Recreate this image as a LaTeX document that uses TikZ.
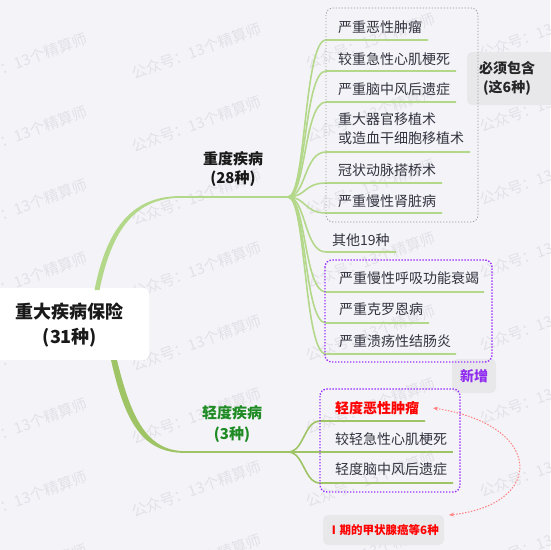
\documentclass[tikz,border=0pt]{standalone}
\usepackage{fontspec}
\setmainfont{Noto Sans CJK SC}
\usetikzlibrary{arrows.meta}
\definecolor{bgc}{HTML}{F4F4F8}
\definecolor{wmc}{HTML}{E1E1E7}
\definecolor{itemc}{HTML}{333340}
\definecolor{hgreen}{HTML}{B3D88A}
\definecolor{lgreen}{HTML}{9FC466}
\definecolor{purp}{HTML}{9B30FF}
\definecolor{purtxt}{HTML}{8F2BF0}
\definecolor{tagfill}{HTML}{E8E8EB}
\definecolor{lgtxt}{HTML}{1F8B24}
\definecolor{arrc}{HTML}{FF8080}
\begin{document}
\begin{tikzpicture}[x=1pt,y=-1pt,
  item/.style={anchor=west, inner sep=0pt, font=\fontsize{14}{19}\selectfont, text=itemc, align=left},
  hbr/.style={draw=hgreen, line width=1.6pt},
  lbr/.style={draw=lgreen, line width=1.6pt},
  dotbox/.style={draw=purp, line width=1.4pt, dash pattern=on 1.4pt off 1.6pt, rounded corners=7pt},
  graybox/.style={draw=black!40, line width=0.8pt, dash pattern=on 1.2pt off 1.8pt, rounded corners=7pt},
  tag/.style={fill=tagfill, rounded corners=5pt, inner sep=0pt},
  wm/.style={anchor=base west, rotate=20, inner sep=0pt, text=wmc, font=\fontsize{15}{15}\selectfont}]
\fill[bgc] (0,0) rectangle (550,550);
\useasboundingbox (0,0) rectangle (550,550);
% watermark
\foreach \i in {0,...,3}{
  \foreach \j in {0,...,7}{
    \node[wm] (wm-\i-\j) at ({-40+174*\i},{90-10*\i+73*\j}) {公众号：13个精算师};
  }
}
% tag boxes
\fill[tagfill, rounded corners=5pt] (467,52) rectangle (560,105);
\node[inner sep=0pt, align=center, font=\bfseries\fontsize{14}{19}\selectfont, text=black!85] (must) at (507,78.5) {必须包含\\(这6种)};
\node[tag, minimum width=44pt, minimum height=34pt, font=\bfseries\fontsize{14}{16}\selectfont, text=purtxt] (new) at (474,376) {新增};
\node[tag, minimum width=121pt, minimum height=30pt, font=\bfseries\fontsize{11.5}{13}\selectfont, text=red] (thy) at (383.5,530) {Ⅰ期的甲状腺癌等6种};
% root
\fill[white, rounded corners=6pt] (-8,288) rectangle (149,360);
\node[inner sep=0pt, align=center, font=\bfseries\fontsize{18}{25}\selectfont, text=black!90] (root) at (70,325.5) {重大疾病保险\\(31种)};
% trunks
\fill[hgreen] (94.5,290) .. controls (105.5,234) and (128.5,196) .. (180,196.1)
  -- (180,197.9) .. controls (131.5,198) and (110.5,236) .. (99.5,290) -- cycle;
\fill[lgreen] (111,360) .. controls (125,423) and (143,453.1) .. (185,452.9)
  -- (185,451.1) .. controls (147,451) and (131,418) .. (117,360) -- cycle;
\coordinate (b1) at (288,197);
\coordinate (b2) at (288,452);
\draw[hbr] (179,197) -- (b1);
\draw[lbr] (184,452) -- (b2);
% labels
\node[inner sep=0pt, align=center, font=\bfseries\fontsize{15}{19}\selectfont, text=black!90] (heavy) at (233,169) {重度疾病\\(28种)};
\node[inner sep=0pt, align=center, font=\bfseries\fontsize{15}{21}\selectfont, text=lgtxt] (light) at (232,424) {轻度疾病\\(3种)};
% heavy items
\foreach \n/\x/\y/\u/\e/\t in {
  h1/338/27/40/428/严重恶性肿瘤,
  h2/338/59/71/456/较重急性心肌梗死,
  h3/338/89/102/456/严重脑中风后遗症,
  h5/338/170/183/442/冠状动脉搭桥术,
  h6/338/201/213/442/严重慢性肾脏病,
  h7/332/240/252/396/其他19种,
  h8/339/278/292/484/严重慢性呼吸功能衰竭,
  h9/339/309/323/429/严重克罗恩病,
  h10/339/341/354/456/严重溃疡性结肠炎}{
  \node[item] (\n) at (\x,\y) {\t};
  \coordinate (\n s) at (326,\u);
  \coordinate (\n e) at (\e,\u);
  \draw[hbr] (b1) .. controls +(18,0) and +(-22,0) .. (\n s) -- (\n e);
}
\node[item] (h4) at (338,128.5) {重大器官移植术\\或造血干细胞移植术};
\coordinate (h4s) at (326,152);
\coordinate (h4e) at (470,152);
\draw[hbr] (b1) .. controls +(18,0) and +(-22,0) .. (h4s) -- (h4e);
% light items
\node[item, text=red, font=\bfseries\fontsize{14}{19}\selectfont] (l1) at (335,408) {轻度恶性肿瘤};
\node[item] (l2) at (335,439) {较轻急性心肌梗死};
\node[item] (l3) at (335,469) {轻度脑中风后遗症};
\coordinate (l1s) at (320,421); \coordinate (l1e) at (425,421);
\coordinate (l2e) at (453,452);
\coordinate (l3s) at (320,483); \coordinate (l3e) at (453,483);
\draw[lbr] (b2) .. controls +(16,0) and +(-16,0) .. (l1s) -- (l1e);
\draw[lbr] (b2) -- (l2e);
\draw[lbr] (b2) .. controls +(16,0) and +(-16,0) .. (l3s) -- (l3e);
% boxes
\draw[graybox] (326,8) rectangle (478,222);
\draw[dotbox] (325,260) rectangle (492,362);
\draw[dotbox] (320,389) rectangle (460,492);
% red arrow
\coordinate (a1) at (433,408);
\coordinate (a2) at (449,515);
\draw[arrc, line width=1pt, dash pattern=on 1.5pt off 1.5pt, {Stealth[length=5pt,width=4pt]}-{Stealth[length=5pt,width=4pt]}]
  (a1) .. controls (545,425) and (545,505) .. (a2);
\end{tikzpicture}
\end{document}
